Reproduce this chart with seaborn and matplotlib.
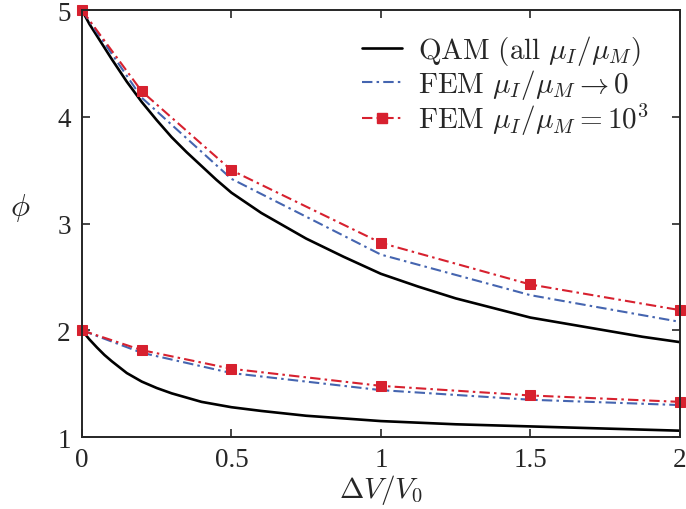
import numpy as np
import pandas as pd
import seaborn as sns
import matplotlib
matplotlib.use("Agg")
import matplotlib.pyplot as plt
from matplotlib.lines import Line2D

# ---- data ----
qam_hi_x = [0, 0.025, 0.05, 0.1, 0.15, 0.2, 0.25, 0.3, 0.35, 0.4, 0.45, 0.5, 0.6,
            0.75, 0.875, 1.0, 1.125, 1.25, 1.375, 1.5, 1.625, 1.75, 1.875, 2.0]
qam_hi_y = [5.0, 4.87, 4.76, 4.54, 4.33, 4.14, 3.97, 3.81, 3.67, 3.54, 3.41, 3.29, 3.10,
            2.86, 2.69, 2.53, 2.41, 2.30, 2.21, 2.12, 2.06, 2.00, 1.94, 1.89]
qam_lo_x = [0, 0.025, 0.05, 0.075, 0.1, 0.15, 0.2, 0.25, 0.3, 0.4, 0.5, 0.6,
            0.75, 0.875, 1.0, 1.25, 1.5, 1.75, 2.0]
qam_lo_y = [2.0, 1.915, 1.84, 1.77, 1.71, 1.60, 1.52, 1.46, 1.41, 1.33, 1.28, 1.245,
            1.20, 1.175, 1.15, 1.12, 1.10, 1.08, 1.06]

fem_x = [0, 0.2, 0.5, 1.0, 1.5, 2.0]
fem0_hi = [5.0, 4.18, 3.42, 2.71, 2.33, 2.08]
fem0_lo = [2.0, 1.79, 1.60, 1.44, 1.35, 1.30]
fem3_hi = [5.0, 4.24, 3.50, 2.82, 2.43, 2.19]
fem3_lo = [2.0, 1.815, 1.64, 1.48, 1.39, 1.33]

labels = [r"$\mathrm{QAM\ (all\ }\mu_I/\mu_M\mathrm{)}$",
          r"$\mathrm{FEM\ }\mu_I/\mu_M \rightarrow 0$",
          r"$\mathrm{FEM\ }\mu_I/\mu_M = 10^3$"]
x_ticks = [0, 0.5, 1, 1.5, 2]
x_tick_labels = ["0", "0.5", "1", "1.5", "2"]
y_ticks = [1, 2, 3, 4, 5]

sns.set_style("ticks")
plt.rcParams["font.family"] = ["Liberation Serif", "DejaVu Serif"]
plt.rcParams["mathtext.fontset"] = "cm"
plt.rcParams["xtick.direction"] = "in"
plt.rcParams["ytick.direction"] = "in"

black = "#000000"
blue = "#4565b0"
red = "#d7212f"
spine_c = "#262626"
dashdot = (0, (5, 2, 1.2, 2))

fig = plt.figure(figsize=(6.86, 5.10), dpi=100)
ax = fig.add_axes([0.1195, 0.141, 0.8715, 0.837])

for xs, ys in [(qam_hi_x, qam_hi_y), (qam_lo_x, qam_lo_y)]:
    sns.lineplot(x=xs, y=ys, ax=ax, color=black, linewidth=1.9, sort=False)
for ys in [fem0_hi, fem0_lo]:
    sns.lineplot(x=fem_x, y=ys, ax=ax, color=blue, linewidth=1.5,
                 linestyle=dashdot, sort=False)
for ys in [fem3_hi, fem3_lo]:
    sns.lineplot(x=fem_x, y=ys, ax=ax, color=red, linewidth=1.5,
                 linestyle=dashdot, marker="s", markersize=7,
                 markeredgecolor=red, markerfacecolor=red, sort=False,
                 clip_on=False)

ax.set_xlim(0, 2)
ax.set_ylim(1, 5)
ax.set_xticks(x_ticks)
ax.set_xticklabels(x_tick_labels)
ax.set_yticks(y_ticks)
ax.tick_params(axis="both", which="both", direction="in", length=6, width=1.2,
               color=spine_c, labelsize=19.5, labelcolor="#262626",
               top=True, right=True)
ax.tick_params(axis="x", pad=7)
ax.tick_params(axis="y", pad=8)
for s in ax.spines.values():
    s.set_visible(True)
    s.set_color(spine_c)
    s.set_linewidth(1.4)

ax.set_xlabel(r"$\Delta V/V_0$", fontsize=21, labelpad=0)
ax.set_ylabel(r"$\phi$", fontsize=23, rotation=0, va="center", ha="center")
ax.yaxis.set_label_coords(-0.104, 0.54)

handles = [
    Line2D([], [], color=black, linewidth=1.9),
    Line2D([], [], color=blue, linewidth=1.5, linestyle=dashdot),
    Line2D([], [], color=red, linewidth=1.5, linestyle=dashdot,
           marker="s", markersize=7),
]
ax.legend(handles, labels, loc="upper left", frameon=False, fontsize=21,
          handlelength=1.37, handletextpad=0.55, labelspacing=0.0,
          borderpad=0, borderaxespad=0,
          bbox_to_anchor=(0.4685, 0.946))

fig.savefig("out.png", dpi=100)
